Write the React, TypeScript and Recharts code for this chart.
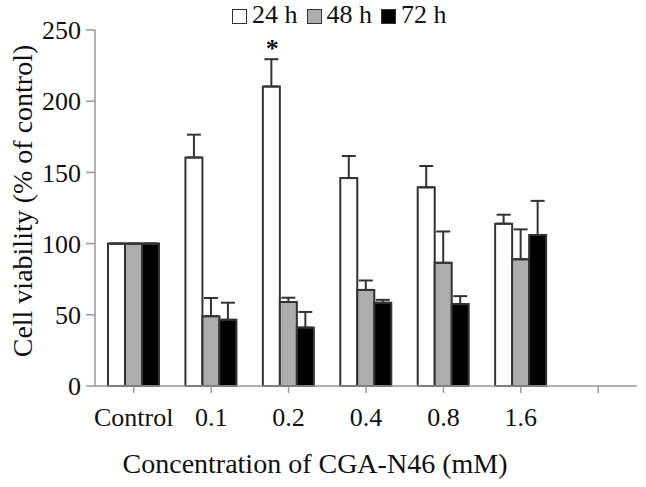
import React from 'react'
import {
  BarChart,
  Bar,
  XAxis,
  YAxis,
  ErrorBar,
  Legend,
  LabelList,
} from 'recharts'

const categories = ['Control', '0.1', '0.2', '0.4', '0.8', '1.6', '']
const h24 = [100, 160.5, 210.3, 146, 139.5, 114, null]
const h48 = [100, 49, 59, 67.5, 86.5, 89, null]
const h72 = [100, 46.5, 41, 58.5, 57.5, 106, null]
const err24 = [0, 16, 19.2, 15.5, 15, 6.3, null]
const err48 = [0, 12.8, 3, 6.6, 22, 21, null]
const err72 = [0, 12, 11, 2, 5.6, 24, null]
const sig24 = ['', '', '*', '', '', '', '']
const yTicks = [0, 50, 100, 150, 200, 250]

const data = categories.map((c, i) => ({
  name: c,
  h24: h24[i],
  h48: h48[i],
  h72: h72[i],
  e24: err24[i] == null ? null : [0, err24[i]],
  e48: err48[i] == null ? null : [0, err48[i]],
  e72: err72[i] == null ? null : [0, err72[i]],
  sig: sig24[i],
}))

const FONT = '"Liberation Serif", "Times New Roman", serif'
const AXIS = '#999'
const EDGE = '#333'

const legendItems = [
  { label: '24 h', fill: '#fff' },
  { label: '48 h', fill: '#adadad' },
  { label: '72 h', fill: '#000' },
]

function LegendBox() {
  return (
    <div
      style={{
        display: 'flex',
        alignItems: 'center',
        height: 30,
        paddingLeft: 232,
        fontFamily: FONT,
        fontSize: 26,
        color: '#111',
        lineHeight: '30px',
      }}
    >
      {legendItems.map((it) => (
        <div key={it.label} style={{ display: 'flex', alignItems: 'center', marginRight: 9 }}>
          <span
            style={{
              display: 'inline-block',
              width: 13,
              height: 13,
              background: it.fill,
              border: `1px solid ${EDGE}`,
              marginRight: 5,
              marginTop: 3,
            }}
          />
          <span>{it.label}</span>
        </div>
      ))}
    </div>
  )
}

// star above the error bar; error length converted through the bar's own px/unit
function SigLabel(props: any) {
  const { x, y, width, height, value, index } = props
  if (!value) return null
  const v = h24[index] as number
  const e = err24[index] as number
  const top = y - (e * height) / v
  return (
    <text
      x={x + width / 2 + 1}
      y={top - 2}
      textAnchor="middle"
      fontFamily={FONT}
      fontSize={26}
      fontWeight="bold"
      fill="#111"
    >
      {value}
    </text>
  )
}

function YTitle({ viewBox }: any) {
  const cx = 22
  const cy = viewBox.y + viewBox.height / 2 - 7
  return (
    <text
      x={cx}
      y={cy}
      transform={`rotate(-90 ${cx} ${cy})`}
      textAnchor="middle"
      dominantBaseline="central"
      fontFamily={FONT}
      fontSize={28}
      fill="#111"
    >
      Cell viability (% of control)
    </text>
  )
}

function XTitle({ viewBox }: any) {
  return (
    <text
      x={315}
      y={viewBox.y + 87}
      textAnchor="middle"
      fontFamily={FONT}
      fontSize={28}
      fill="#111"
    >
      Concentration of CGA-N46 (mM)
    </text>
  )
}

export default function App() {
  return (
    <div style={{ position: 'fixed', left: 0, top: 0, background: '#fff' }}>
      <BarChart
        width={646}
        height={487}
        data={data}
        margin={{ top: 0, right: 9, left: 0, bottom: 0 }}
        barGap={0}
        barSize={17}
      >
        <Legend
          verticalAlign="top"
          content={() => <LegendBox />}
          wrapperStyle={{ top: 0, left: 0, width: 646, height: 30 }}
        />
        <XAxis
          dataKey="name"
          height={101}
          interval={0}
          axisLine={{ stroke: AXIS, strokeWidth: 1.5 }}
          tickLine={{ stroke: AXIS, strokeWidth: 1.5 }}
          tickSize={7}
          tickMargin={15}
          tick={{ fontSize: 26, fill: '#111', fontFamily: FONT }}
          label={{ content: XTitle }}
        />
        <YAxis
          width={95}
          domain={[0, 250]}
          ticks={yTicks}
          interval={0}
          axisLine={{ stroke: AXIS, strokeWidth: 1.5 }}
          tickLine={{ stroke: AXIS, strokeWidth: 1.5 }}
          tickSize={9}
          tickMargin={5}
          tick={{ fontSize: 26, fill: '#111', fontFamily: FONT }}
          label={{ content: YTitle }}
        />
        <Bar dataKey="h24" fill="#fff" stroke={EDGE} strokeWidth={2} isAnimationActive={false}>
          <ErrorBar dataKey="e24" width={7} stroke={EDGE} strokeWidth={2} />
          <LabelList dataKey="sig" content={SigLabel} />
        </Bar>
        <Bar dataKey="h48" fill="#adadad" stroke={EDGE} strokeWidth={2} isAnimationActive={false}>
          <ErrorBar dataKey="e48" width={7} stroke={EDGE} strokeWidth={2} />
        </Bar>
        <Bar dataKey="h72" fill="#000" stroke={EDGE} strokeWidth={2} isAnimationActive={false}>
          <ErrorBar dataKey="e72" width={7} stroke={EDGE} strokeWidth={2} />
        </Bar>
      </BarChart>
    </div>
  )
}
